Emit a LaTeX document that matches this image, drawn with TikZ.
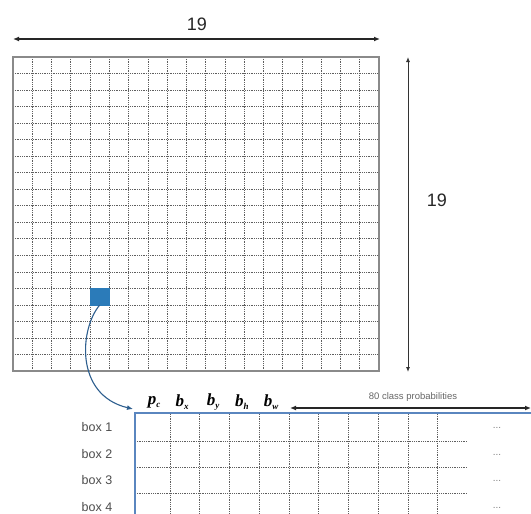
\documentclass[tikz,border=0pt]{standalone}
\usepackage{fontspec}
\setmainfont{Liberation Sans}
\newfontfamily\tms{Liberation Serif}
\usetikzlibrary{arrows.meta}
\definecolor{sqblue}{HTML}{2B7BB9}
\definecolor{curveblue}{HTML}{2E5F8F}
\definecolor{tabblue}{HTML}{5A86BF}
\definecolor{gridgray}{HTML}{8A8A8A}
\definecolor{dotgray}{HTML}{5E5E5E}
\newcommand{\hdr}[2]{{\tms\bfseries\itshape\fontsize{17}{17}\selectfont #1\raisebox{-0.2em}{\fontsize{9}{9}\selectfont #2}}}
\begin{document}
\begin{tikzpicture}[x=1pt,y=-1pt,
  dimarrow/.style={draw=black!85, line width=1.4pt, {Latex[length=6pt,width=5pt]}-{Latex[length=6pt,width=5pt]}},
  vdimarrow/.style={draw=black!80, line width=0.9pt, {Latex[length=5pt,width=4pt]}-{Latex[length=5pt,width=4pt]}},
  dotline/.style={draw=dotgray, line width=0.65pt, dash pattern=on 0.9pt off 0.9pt},
  gridbox/.style={draw=gridgray, line width=1.4pt, rectangle, inner sep=0pt, minimum width=366pt, minimum height=314pt},
  cell/.style={fill=sqblue, draw=sqblue, rectangle, inner sep=0pt, minimum width=19.26pt, minimum height=16.53pt},
  dimlabel/.style={font=\fontsize{18}{18}\selectfont, text=black!85},
  boxlabel/.style={font=\fontsize{12.5}{12.5}\selectfont, text=black!70},
  dotslabel/.style={font=\fontsize{10}{10}\selectfont, text=black!50},
  tabline/.style={draw=tabblue, line width=1.4pt}
]
\useasboundingbox (0,0) rectangle (531,514);
\fill[white] (0,0) rectangle (531,514);

% main grid
\foreach \i in {1,...,18} {
  \draw[dotline] ({13+\i*19.263},57) -- ({13+\i*19.263},371);
  \draw[dotline] (13,{57+\i*16.526}) -- (379,{57+\i*16.526});
}
\node[gridbox] (grid) at (196,214) {};
\node[cell] (sq) at ({13+4.5*19.263},{57+14.5*16.526}) {};

% dimension arrows
\coordinate (hl) at (13,39);
\coordinate (hr) at (380,39);
\draw[dimarrow] (hl) -- (hr);
\node[dimlabel] (toplab) at (197,24) {19};
\coordinate (vt) at (408,57);
\coordinate (vb) at (408,372);
\draw[vdimarrow] (vt) -- (vb);
\node[dimlabel] (sidelab) at (437,200) {19};

% table
\foreach \x in {170,199.5,229.5,259.5,289,318.5,348,378,408,437} {
  \draw[dotline] (\x,414) -- (\x,514);
}
\foreach \y in {441,467,493} {
  \draw[dotline] (135,\y) -- (467,\y);
}
\coordinate (tabnw) at (135,413);
\coordinate (tabne) at (531,413);
\coordinate (tabsw) at (135,514);
\draw[tabline] (tabne) -- (tabnw) -- (tabsw);

% header labels
\node (pc) at (154,402) {\hdr{p}{c}};
\node (bx) at (182,402) {\hdr{b}{x}};
\node (by) at (213,402) {\hdr{b}{y}};
\node (bh) at (242,402) {\hdr{b}{h}};
\node (bw) at (271,402) {\hdr{b}{w}};

% class probabilities arrow
\coordinate (cl) at (290,408);
\coordinate (cr) at (531,408);
\draw[draw=black!85, line width=1.3pt, {Latex[length=6pt,width=5pt]}-{Latex[length=6pt,width=5pt]}] (cl) -- (cr);
\node[font=\fontsize{9.5}{9.5}\selectfont, text=black!60] (cplab) at (413,397) {80 class probabilities};

% row labels
\node[boxlabel] (b1) at (97,427) {box 1};
\node[boxlabel] (b2) at (97,454) {box 2};
\node[boxlabel] (b3) at (97,480) {box 3};
\node[boxlabel] (b4) at (97,507) {box 4};
\node[dotslabel] (d1) at (497,428) {...};
\node[dotslabel] (d2) at (497,455) {...};
\node[dotslabel] (d3) at (497,481) {...};
\node[dotslabel] (d4) at (497,508) {...};

% curved connector
\coordinate (tabtip) at (133,409);
\draw[draw=curveblue, line width=1.1pt, -{Latex[length=6pt,width=5pt]}] (sq.south) .. controls (80,328) and (74,395) .. (tabtip);
\end{tikzpicture}
\end{document}
